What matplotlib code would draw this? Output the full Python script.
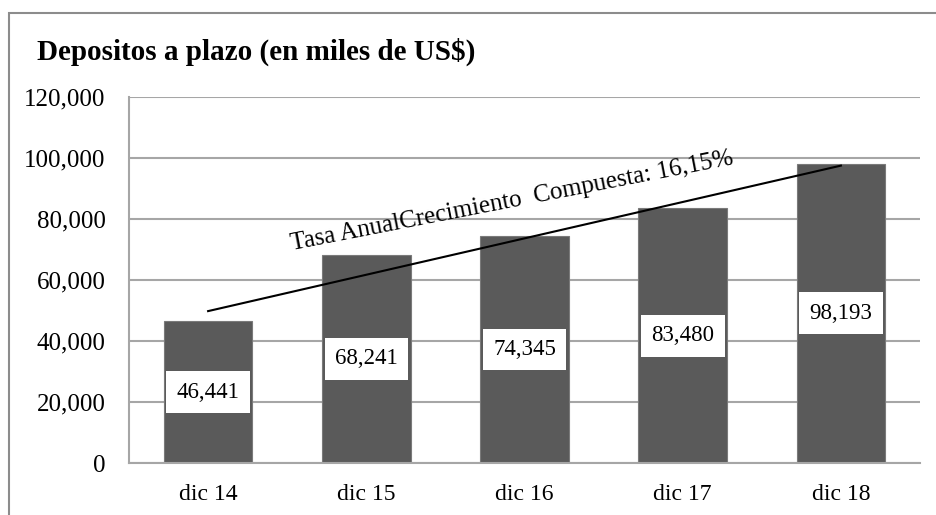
import matplotlib
matplotlib.use("Agg")
import matplotlib.pyplot as plt
from matplotlib.patches import Rectangle
from matplotlib.ticker import FuncFormatter

# data
periods = ["dic 14", "dic 15", "dic 16", "dic 17", "dic 18"]
depositos = [46441, 68241, 74345, 83480, 98193]
trend_x = [0, 4]
trend_y = [49800, 97500]
trend_label = "Tasa AnualCrecimiento  Compuesta: 16,15%"
title = "Depositos a plazo (en miles de US$)"

plt.rcParams["font.family"] = ["Liberation Serif", "DejaVu Serif"]

fig = plt.figure(figsize=(9.36, 5.15), dpi=100)
ax = fig.add_axes([129 / 936, 1 - 463 / 515, (920 - 129) / 936, (463 - 97) / 515])

x = list(range(len(periods)))
ax.bar(x, depositos, width=0.56, color="#5a5a5a", edgecolor="#7a7a7a",
       linewidth=0.8, zorder=2)

for xi, v in zip(x, depositos):
    ax.text(xi, v / 2, f"{v:,}", ha="center", va="center", fontsize=16.5,
            zorder=4,
            bbox=dict(boxstyle="square,pad=0.45", facecolor="white",
                      edgecolor="none"))

ax.plot(trend_x, trend_y, color="black", linewidth=1.5, zorder=3)
ax.text(1.92, 85800, trend_label, rotation=11, rotation_mode="anchor",
        ha="center", va="center", fontsize=18, zorder=3)

ax.set_xlim(-0.5, len(periods) - 0.5)
ax.set_ylim(0, 120000)
ax.set_yticks(range(0, 120001, 20000))
ax.yaxis.set_major_formatter(FuncFormatter(lambda v, p: f"{int(v):,}"))
ax.set_xticks(x)
ax.set_xticklabels(periods)
ax.tick_params(axis="y", length=0, pad=17, labelsize=18)
ax.tick_params(axis="x", length=0, pad=15, labelsize=17)

ax.grid(axis="y", color="#a6a6a6", linewidth=1.5, zorder=0)
ax.set_axisbelow(True)
for side in ["top", "right"]:
    ax.spines[side].set_visible(False)
for side in ["left", "bottom"]:
    ax.spines[side].set_color("#a6a6a6")
    ax.spines[side].set_linewidth(1.5)

fig.text(37 / 936, 1 - 52 / 515, title, fontsize=21, fontweight="bold",
         va="center", ha="left")

# outer chart frame (only the top and left edges are visible)
fig.patches.append(Rectangle((9 / 936, -0.2), 1.2, 1 - 13 / 515 + 0.2,
                             transform=fig.transFigure, fill=False,
                             edgecolor="#8c8c8c", linewidth=1.5))

fig.savefig("out.png", dpi=100)
